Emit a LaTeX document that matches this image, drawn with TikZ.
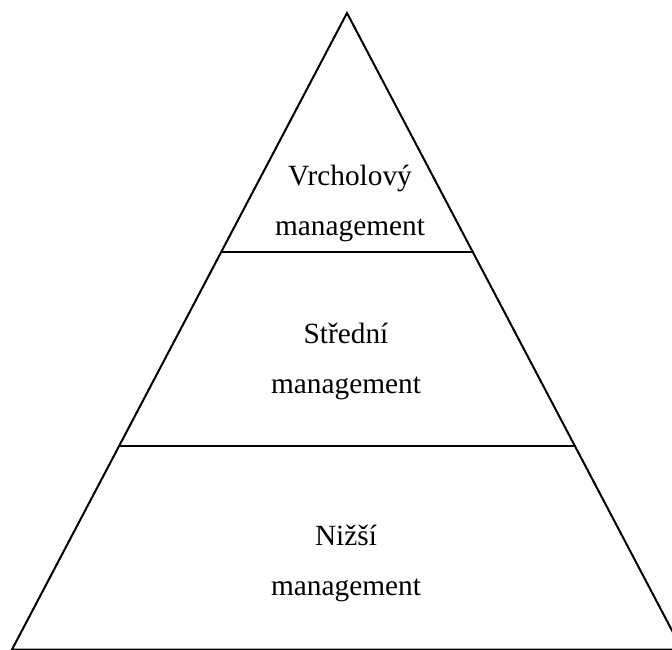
\documentclass[tikz,border=0pt]{standalone}
\usepackage{fontspec}
\setmainfont{Liberation Serif}
\usetikzlibrary{calc}

\begin{document}
\begin{tikzpicture}[
    x=0.75pt, y=-0.75pt,
    tier/.style={align=center, font=\fontsize{22}{37.5}\selectfont},
    edge/.style={line width=1.5pt}
]
\clip (0,0) rectangle (672,650);
\coordinate (apex) at (347,13);
\coordinate (bl) at (12,649.5);
\coordinate (br) at (682,649.5);
\coordinate (l1) at ($(apex)!0.376!(bl)$);
\coordinate (r1) at ($(apex)!0.376!(br)$);
\coordinate (l2) at ($(apex)!0.681!(bl)$);
\coordinate (r2) at ($(apex)!0.681!(br)$);

\draw[edge] (bl) -- (apex) -- (br) -- cycle;
\draw[edge] (l1) -- (r1);
\draw[edge] (l2) -- (r2);

\node[tier] (top) at (350,203) {Vrcholový\\management};
\node[tier] (mid) at (346,361) {Střední\\management};
\node[tier] (low) at (346,563) {Nižší\\management};
\end{tikzpicture}
\end{document}
